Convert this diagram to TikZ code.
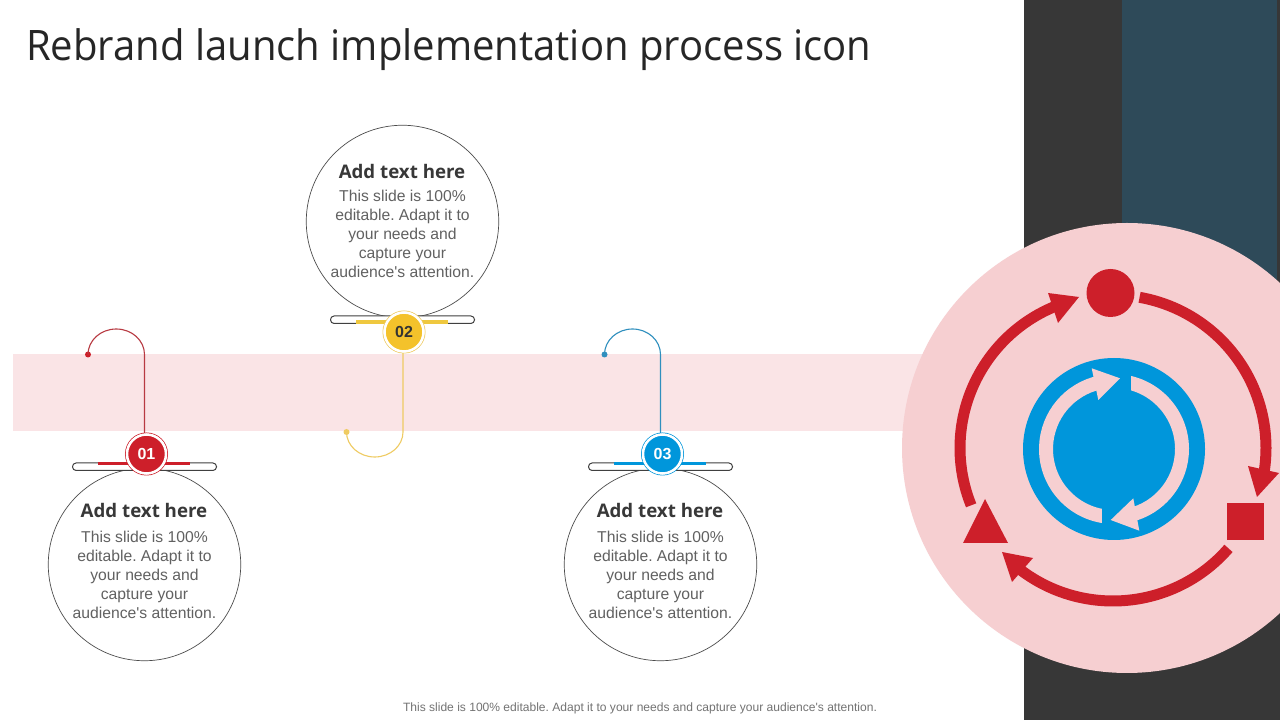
\documentclass[tikz,border=0pt]{standalone}
\usepackage{fontspec}
\setmainfont[Ligatures=TeXOff]{Liberation Sans}
\newfontfamily\titlefont[FakeStretch=0.953]{Open Sans}
\newfontfamily\headfont{Open Sans}
\definecolor{dark}{HTML}{373737}
\definecolor{teal}{HTML}{2E4A59}
\definecolor{bandpink}{HTML}{FAE4E6}
\definecolor{softpink}{HTML}{F6CFD1}
\definecolor{mred}{HTML}{CD1F2A}
\definecolor{myellow}{HTML}{F4C22B}
\definecolor{barsyellow}{HTML}{EFC83F}
\definecolor{mblue}{HTML}{0096DB}
\definecolor{hookyellow}{HTML}{EFCB62}
\definecolor{hookblue}{HTML}{2F8FBE}
\definecolor{hookred}{HTML}{B83A42}
\tikzset{
  x=1pt,y=1pt,
  textring/.style={circle,draw=black!70,line width=0.7pt,fill=white,minimum size=192.5pt,inner sep=0pt},
  bubbletext/.style={align=center,inner sep=0pt,text=black!62,font=\frenchspacing\fontsize{15.7}{19}\selectfont},
  headtext/.style={inner sep=0pt,text=black!78,font=\headfont\bfseries\fontsize{18.7}{22}\selectfont},
  badge/.style={circle,fill=#1,draw=white,line width=2.5pt,minimum size=39pt,inner sep=0pt,font=\bfseries\fontsize{16}{18}\selectfont},
  badgering/.style={circle,draw=#1,line width=1pt,fill=white,minimum size=42pt,inner sep=0pt},
  holder/.style={draw=black!75,line width=1pt,fill=white,rounded corners=3.6pt},
  hookdot/.style={circle,fill=#1,minimum size=6pt,inner sep=0pt},
  hookline/.style={draw=#1,line width=1.1pt},
  bigarc/.style={draw=mred,line width=11pt},
  smallarc/.style={draw=softpink,line width=14pt}
}
\begin{document}
\begin{tikzpicture}
\useasboundingbox (0,0) rectangle (1280,720);
\fill[white] (0,0) rectangle (1280,720);
% right panels
\fill[dark] (1024,0) rectangle (1280,720);
\fill[teal] (1122,420) rectangle (1277,720);
% band
\fill[bandpink] (13,289) rectangle (940,366);
% title and footer
\node[anchor=base west,inner sep=0pt,text=black!85,font=\titlefont\fontsize{42}{50}\selectfont] (title) at (26,659) {Rebrand launch implementation process icon};
\node[inner sep=0pt,text=black!55,font=\frenchspacing\fontsize{12.05}{14}\selectfont] (footer) at (640,12) {This slide is 100\% editable. Adapt it to your needs and capture your audience's attention.};

% bubble 1
\node[textring] (ring1) at (144.5,155.5) {};
\draw[holder] (72.5,249.5) rectangle (216.5,257);
\draw[mred,line width=3.6pt] (98,256.5) -- (190,256.5);
\node[hookdot=mred] (dot1) at (88,365.5) {};
\coordinate (hook1) at (144.5,266);
\draw[hookline=hookred] (dot1.center) arc[start angle=180,end angle=0,x radius=28.25,y radius=25.5] -- (hook1);
\node[badgering=mred] (ring1b) at (146.5,266) {};
\node[badge=mred,text=white] (badge1) at (146.5,266) {01};
\node[headtext] (head1) at (144,209.5) {Add text here};
\node[bubbletext] (body1) at (144.5,145.5) {This slide is 100\%\\editable. Adapt it to\\your needs and\\capture your\\audience's attention.};

% bubble 2
\node[textring] (ring2) at (402.5,498.5) {};
\draw[holder] (330.5,396.5) rectangle (474.5,404);
\draw[barsyellow,line width=3.6pt] (356,398) -- (448,398);
\node[hookdot=hookyellow] (dot2) at (346.5,288) {};
\coordinate (hook2) at (403,388);
\draw[hookline=hookyellow] (dot2.center) arc[start angle=180,end angle=360,x radius=28.25,y radius=25] -- (hook2);
\node[badgering=hookyellow] (ring2b) at (404,388) {};
\node[badge=myellow,text=black!80] (badge2) at (404,388) {02};
\node[headtext] (head2) at (402,549) {Add text here};
\node[bubbletext] (body2) at (402.5,486) {This slide is 100\%\\editable. Adapt it to\\your needs and\\capture your\\audience's attention.};

% bubble 3
\node[textring] (ring3) at (660.5,155.5) {};
\draw[holder] (588.5,249.5) rectangle (732.5,257);
\draw[mblue,line width=3.6pt] (614,256.5) -- (706,256.5);
\node[hookdot=hookblue] (dot3) at (604.5,365.5) {};
\coordinate (hook3) at (660.5,266);
\draw[hookline=hookblue] (dot3.center) arc[start angle=180,end angle=0,x radius=28,y radius=25.5] -- (hook3);
\node[badgering=mblue] (ring3b) at (662.5,266) {};
\node[badge=mblue,text=white] (badge3) at (662.5,266) {03};
\node[headtext] (head3) at (660,209.5) {Add text here};
\node[bubbletext] (body3) at (660.5,145.5) {This slide is 100\%\\editable. Adapt it to\\your needs and\\capture your\\audience's attention.};

% big pink disc
\fill[softpink] (1127,272) circle[radius=225];
% outer cycle
\coordinate (c) at (1113,272);
\draw[bigarc] (c) ++(80:153) arc[start angle=80,end angle=-12,radius=153];
\fill[mred] (1248,254) -- (1279,247) -- (1257,223) -- cycle;
\draw[bigarc] (c) ++(-41:153) arc[start angle=-41,end angle=-130,radius=153];
\fill[mred] (1033,162) -- (1012,138) -- (1002,168) -- cycle;
\draw[bigarc] (c) ++(202:153) arc[start angle=202,end angle=109,radius=153];
\fill[mred] (1048,427) -- (1058,397) -- (1079,423) -- cycle;
\node[circle,fill=mred,minimum size=48pt,inner sep=0pt] (topshape) at (1110.5,427) {};
\fill[mred] (1227,180) rectangle (1264,217);
\fill[mred] (985,221) -- (963,177) -- (1008,177) -- cycle;
% blue cycle
\fill[mblue] (1114,271) circle[radius=91];
\coordinate (d) at (1114,271);
\draw[smallarc] (d) ++(268:68) arc[start angle=268,end angle=102,radius=68];
\draw[smallarc] (d) ++(85:68) arc[start angle=85,end angle=-76,radius=68];
\fill[mblue] (1116,325) rectangle (1131,353);
\fill[mblue] (1113.5,188) rectangle (1101.7,215);
\fill[softpink] (1091.7,351.7) -- (1098.3,320) -- (1120,341.7) -- cycle;
\fill[softpink] (1133.3,221.7) -- (1139.3,189.3) -- (1110.7,200) -- cycle;
\end{tikzpicture}
\end{document}
